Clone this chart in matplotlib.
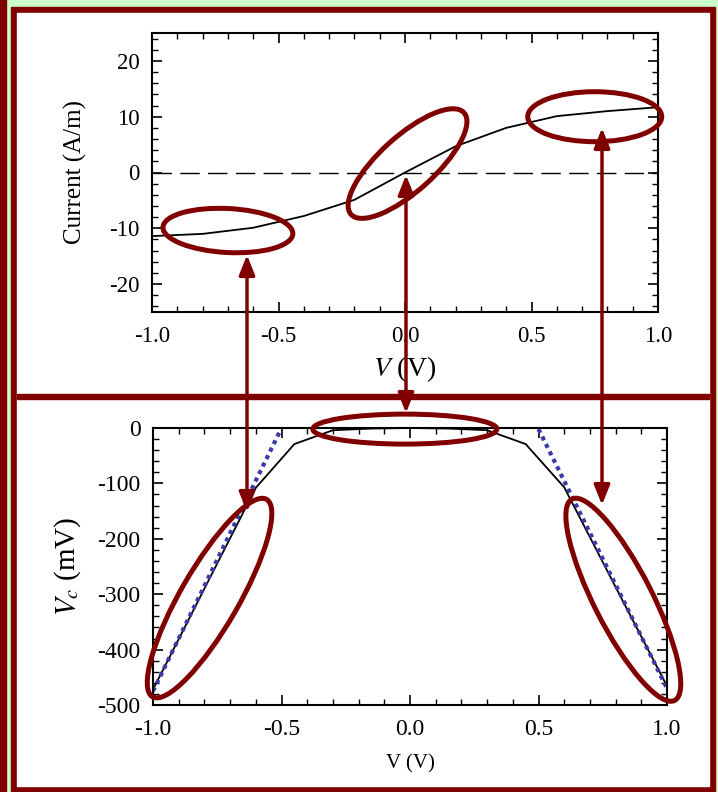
import matplotlib
matplotlib.use('Agg')
import matplotlib.pyplot as plt
from matplotlib.patches import Ellipse, Rectangle, FancyArrowPatch
from matplotlib.ticker import MultipleLocator

plt.rcParams['font.family'] = ['Liberation Serif', 'DejaVu Serif']
plt.rcParams['mathtext.fontset'] = 'stix'
plt.rcParams['axes.unicode_minus'] = False

W, H = 718, 792
DARK_RED = '#800000'
GREEN_BG = '#ccffcc'
DOT_BLUE = '#3a3aa8'

# I-V curve (top panel)
v_iv = [-1.0, -0.8, -0.6, -0.4, -0.2, 0.0, 0.2, 0.4, 0.6, 0.8, 1.0]
current = [-11.4, -11.0, -9.9, -7.8, -4.9, 0.0, 4.7, 8.0, 10.1, 11.0, 11.7]

# Vc vs V (bottom panel)
v_bias = [-1.0, -0.8, -0.6, -0.45, -0.3, -0.15, 0.0, 0.15, 0.3, 0.45, 0.6, 0.8, 1.0]
v_c = [-472, -290, -108, -29, -4, -1, 0, -1, -4, -29, -107, -287, -466]

# linear fits (dotted)
fit_left_v = [-1.0, -0.5]
fit_left = [-475, 0]
fit_right_v = [0.5, 1.0]
fit_right = [-2, -470]

# highlighted regions: (panel, x, y, width_px, height_px, visual angle deg)
ellipses = [
    ('top', -0.70, -10.4, 130, 44, -3),
    ('top', 0.01, 1.6, 152, 55, 42),
    ('top', 0.75, 10.0, 134, 50, 0),
    ('bot', -0.02, -2, 184, 30, 0),
    ('bot', -0.78, -307, 228, 58, 60),
    ('bot', 0.83, -310, 226, 58, -63),
]
# linking arrows (pixel x, y_top, y_bottom)
arrows = [(247, 255, 512), (406, 175, 413), (602, 128, 505)]

fig = plt.figure(figsize=(W / 100, H / 100), dpi=100, facecolor=GREEN_BG)

# frame
bg = fig.add_axes([0, 0, 1, 1], zorder=0)
bg.set_xlim(0, W)
bg.set_ylim(H, 0)
bg.axis('off')
bg.add_patch(Rectangle((0, 0), 6, H, color=DARK_RED))
bg.add_patch(Rectangle((11, 7), 704, H - 7, color=DARK_RED))
bg.add_patch(Rectangle((17, 13), 692, 773, color='white'))
bg.add_patch(Rectangle((17, 394), 692, 5, color=DARK_RED))


def style_axes(ax):
    ax.set_facecolor('none')
    for s in ax.spines.values():
        s.set_linewidth(1.5)
    ax.tick_params(which='both', direction='in', top=True, right=True,
                   labelsize=16.5)
    ax.tick_params(axis='x', pad=10)
    ax.tick_params(axis='y', pad=9)
    ax.tick_params(which='major', length=7, width=1.2)
    ax.tick_params(which='minor', length=4, width=1.0)


ax1 = fig.add_axes([152 / W, 1 - 312 / H, 506 / W, 279 / H], zorder=1)
ax1.plot(v_iv, current, color='black', lw=1.3)
ax1.axhline(0, color='black', lw=1.0, ls=(0, (14, 6)))
ax1.set_xlim(-1, 1)
ax1.set_ylim(-25, 25)
ax1.xaxis.set_major_locator(MultipleLocator(0.5))
ax1.xaxis.set_minor_locator(MultipleLocator(0.1))
ax1.yaxis.set_major_locator(MultipleLocator(10))
ax1.yaxis.set_minor_locator(MultipleLocator(2))
ax1.xaxis.set_major_formatter(lambda x, p: f'{x:.1f}')
style_axes(ax1)
ax1.set_xlabel(r'$V$ (V)', fontsize=20, labelpad=5)
ax1.set_ylabel('Current (A/m)', fontsize=18, labelpad=16)

ax2 = fig.add_axes([153 / W, 1 - 705 / H, 514 / W, 277 / H], zorder=1)
ax2.plot(v_bias, v_c, color='black', lw=1.3)
ax2.plot(fit_left_v, fit_left, color=DOT_BLUE, lw=3, ls=(0, (1, 1)))
ax2.plot(fit_right_v, fit_right, color=DOT_BLUE, lw=3, ls=(0, (1, 1)))
ax2.set_xlim(-1, 1)
ax2.set_ylim(-500, 0)
ax2.xaxis.set_major_locator(MultipleLocator(0.5))
ax2.xaxis.set_minor_locator(MultipleLocator(0.1))
ax2.yaxis.set_major_locator(MultipleLocator(100))
ax2.yaxis.set_minor_locator(MultipleLocator(20))
ax2.xaxis.set_major_formatter(lambda x, p: f'{x:.1f}')
style_axes(ax2)
ax2.tick_params(labelsize=17)
ax2.set_xlabel('V (V)', fontsize=15, labelpad=10)
ax2.set_ylabel(r'$V_c$ (mV)', fontsize=21, labelpad=10)

# annotation overlay
ov = fig.add_axes([0, 0, 1, 1], zorder=2)
ov.set_xlim(0, W)
ov.set_ylim(H, 0)
ov.axis('off')
ov.set_facecolor('none')

panels = {'top': ax1, 'bot': ax2}
for panel, x, y, w, h, ang in ellipses:
    ax = panels[panel]
    cx, cy = ov.transData.inverted().transform(ax.transData.transform((x, y)))
    ov.add_patch(Ellipse((cx, cy), w, h, angle=-ang, fill=False,
                         edgecolor=DARK_RED, lw=3.6))

for x, y0, y1 in arrows:
    ov.add_patch(FancyArrowPatch((x, y0), (x, y1),
                                 arrowstyle='<|-|>,head_length=0.6,head_width=0.24',
                                 mutation_scale=20, color=DARK_RED, lw=2.5,
                                 shrinkA=0, shrinkB=0))

fig.savefig('out.png', dpi=100, facecolor=GREEN_BG)
